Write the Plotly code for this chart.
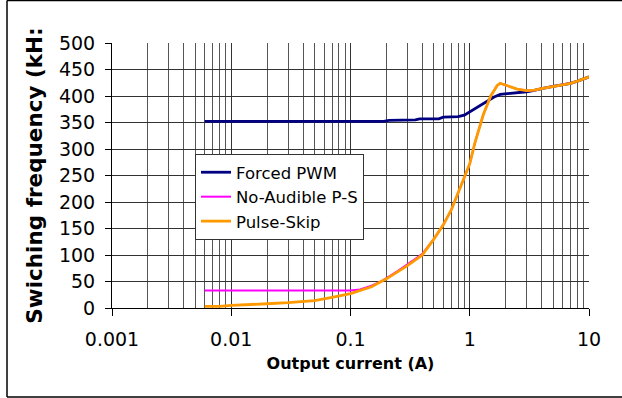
import plotly.graph_objects as go

# Data
pwm_x = [0.006, 0.01, 0.02, 0.05, 0.1, 0.19, 0.21, 0.35, 0.38, 0.55, 0.6, 0.8, 0.9, 1.0, 1.2, 1.4, 1.6, 1.8, 2.0, 2.5, 3.0, 3.4, 4.0, 5.0, 6.0, 7.0, 8.0, 10.0]
pwm_y = [352, 352, 352, 352, 352, 352, 354, 355, 357, 357, 360, 361, 364, 370, 380, 390, 398, 403, 404, 405, 408, 410, 414, 418, 421, 424, 428, 436]

nap_x = [0.006, 0.01, 0.05, 0.1, 0.12, 0.15, 0.18, 0.25, 0.35, 0.4, 0.5, 0.6, 0.7, 0.8, 0.9, 1.0, 1.1, 1.2, 1.3, 1.5, 1.7, 1.8, 2.0, 2.5, 3.0, 3.5, 4.0, 5.0, 6.0, 7.0, 8.0, 10.0]
nap_y = [33, 33, 33, 33, 35, 42, 50, 70, 93, 102, 130, 157, 185, 218, 246, 272, 310, 340, 365, 400, 420, 424, 420, 413, 410, 411, 414, 418, 421, 424, 428, 436]

ps_x = [0.006, 0.008, 0.01, 0.015, 0.02, 0.03, 0.04, 0.05, 0.07, 0.1, 0.15, 0.2, 0.3, 0.4, 0.5, 0.6, 0.7, 0.8, 0.9, 1.0, 1.1, 1.2, 1.3, 1.5, 1.7, 1.8, 2.0, 2.5, 3.0, 3.5, 4.0, 5.0, 6.0, 7.0, 8.0, 10.0]
ps_y = [3, 3, 5, 6, 8, 10, 13, 14, 20, 27, 40, 55, 80, 100, 130, 157, 185, 218, 246, 272, 310, 340, 365, 400, 420, 424, 420, 413, 410, 411, 414, 418, 421, 424, 428, 436]

y_ticks = [0, 50, 100, 150, 200, 250, 300, 350, 400, 450, 500]
x_tickvals = [0.001, 0.01, 0.1, 1, 10]
x_ticktext = ["0.001", "0.01", "0.1", "1", "10"]

FONT = "DejaVu Sans, sans-serif"

fig = go.Figure()
fig.add_trace(go.Scatter(x=pwm_x, y=pwm_y, mode="lines", name="Forced PWM",
                         line=dict(color="#000080", width=2.8)))
fig.add_trace(go.Scatter(x=nap_x, y=nap_y, mode="lines", name="No-Audible P-S",
                         line=dict(color="#FF00FF", width=2)))
fig.add_trace(go.Scatter(x=ps_x, y=ps_y, mode="lines", name="Pulse-Skip",
                         line=dict(color="#FF9900", width=2.8)))

# plot area: x 112..589, y 43..308 (px)
W, H = 622, 398
L, R, T, B = 112, 589, 43, 308
pw, ph = R - L, B - T

def px_x(p):
    return (p - L) / pw

def px_y(p):
    return (B - p) / ph

grid_col = "#333333"

fig.update_layout(
    width=W, height=H,
    margin=dict(l=L, r=W - R, t=T, b=H - B),
    paper_bgcolor="white", plot_bgcolor="white",
    font=dict(family=FONT, color="black"),
    showlegend=True,
    legend=dict(x=px_x(195), y=px_y(154), xanchor="left", yanchor="top",
                bgcolor="white", bordercolor="#333333", borderwidth=1,
                font=dict(size=16.5, family=FONT, color="black"),
                tracegroupgap=0, itemwidth=30),
    xaxis=dict(type="log", range=[-3, 1],
               tickvals=x_tickvals, ticktext=x_ticktext,
               ticks="outside", ticklen=7, tickcolor="black",
               tickfont=dict(size=19, family=FONT, color="black"),
               ticklabelstandoff=7,
               showline=True, linecolor="black", linewidth=1,
               showgrid=True, gridcolor=grid_col, gridwidth=1,
               minor=dict(showgrid=True, gridcolor="#555555", gridwidth=1,
                          dtick="D1", ticks=""),
               zeroline=False,
               title=dict(text="Output current (A)",
                          font=dict(size=16, family=FONT, weight="bold", color="black"),
                          standoff=9)),
    yaxis=dict(range=[0, 500], tickvals=y_ticks,
               ticks="outside", ticklen=6, tickcolor="black",
               tickfont=dict(size=19, family=FONT, color="black"),
               ticklabelstandoff=6,
               showline=True, linecolor="black", linewidth=1,
               showgrid=True, gridcolor=grid_col, gridwidth=1,
               zeroline=False,
               title=dict(text="Swiching frequency (kH:",
                          font=dict(size=21.5, family=FONT, weight="bold", color="black"),
                          standoff=10)),
)

# outer frame of the chart object
fig.add_shape(type="line", xref="paper", yref="paper",
              x0=px_x(7), x1=px_x(7), y0=px_y(0.5), y1=px_y(397), line=dict(color="black", width=1.5))
fig.add_shape(type="line", xref="paper", yref="paper",
              x0=px_x(7), x1=px_x(630), y0=px_y(0.5), y1=px_y(0.5), line=dict(color="black", width=1.5))
fig.add_shape(type="line", xref="paper", yref="paper",
              x0=px_x(7), x1=px_x(630), y0=px_y(397), y1=px_y(397), line=dict(color="black", width=1.5))

fig.write_html("out.html")
